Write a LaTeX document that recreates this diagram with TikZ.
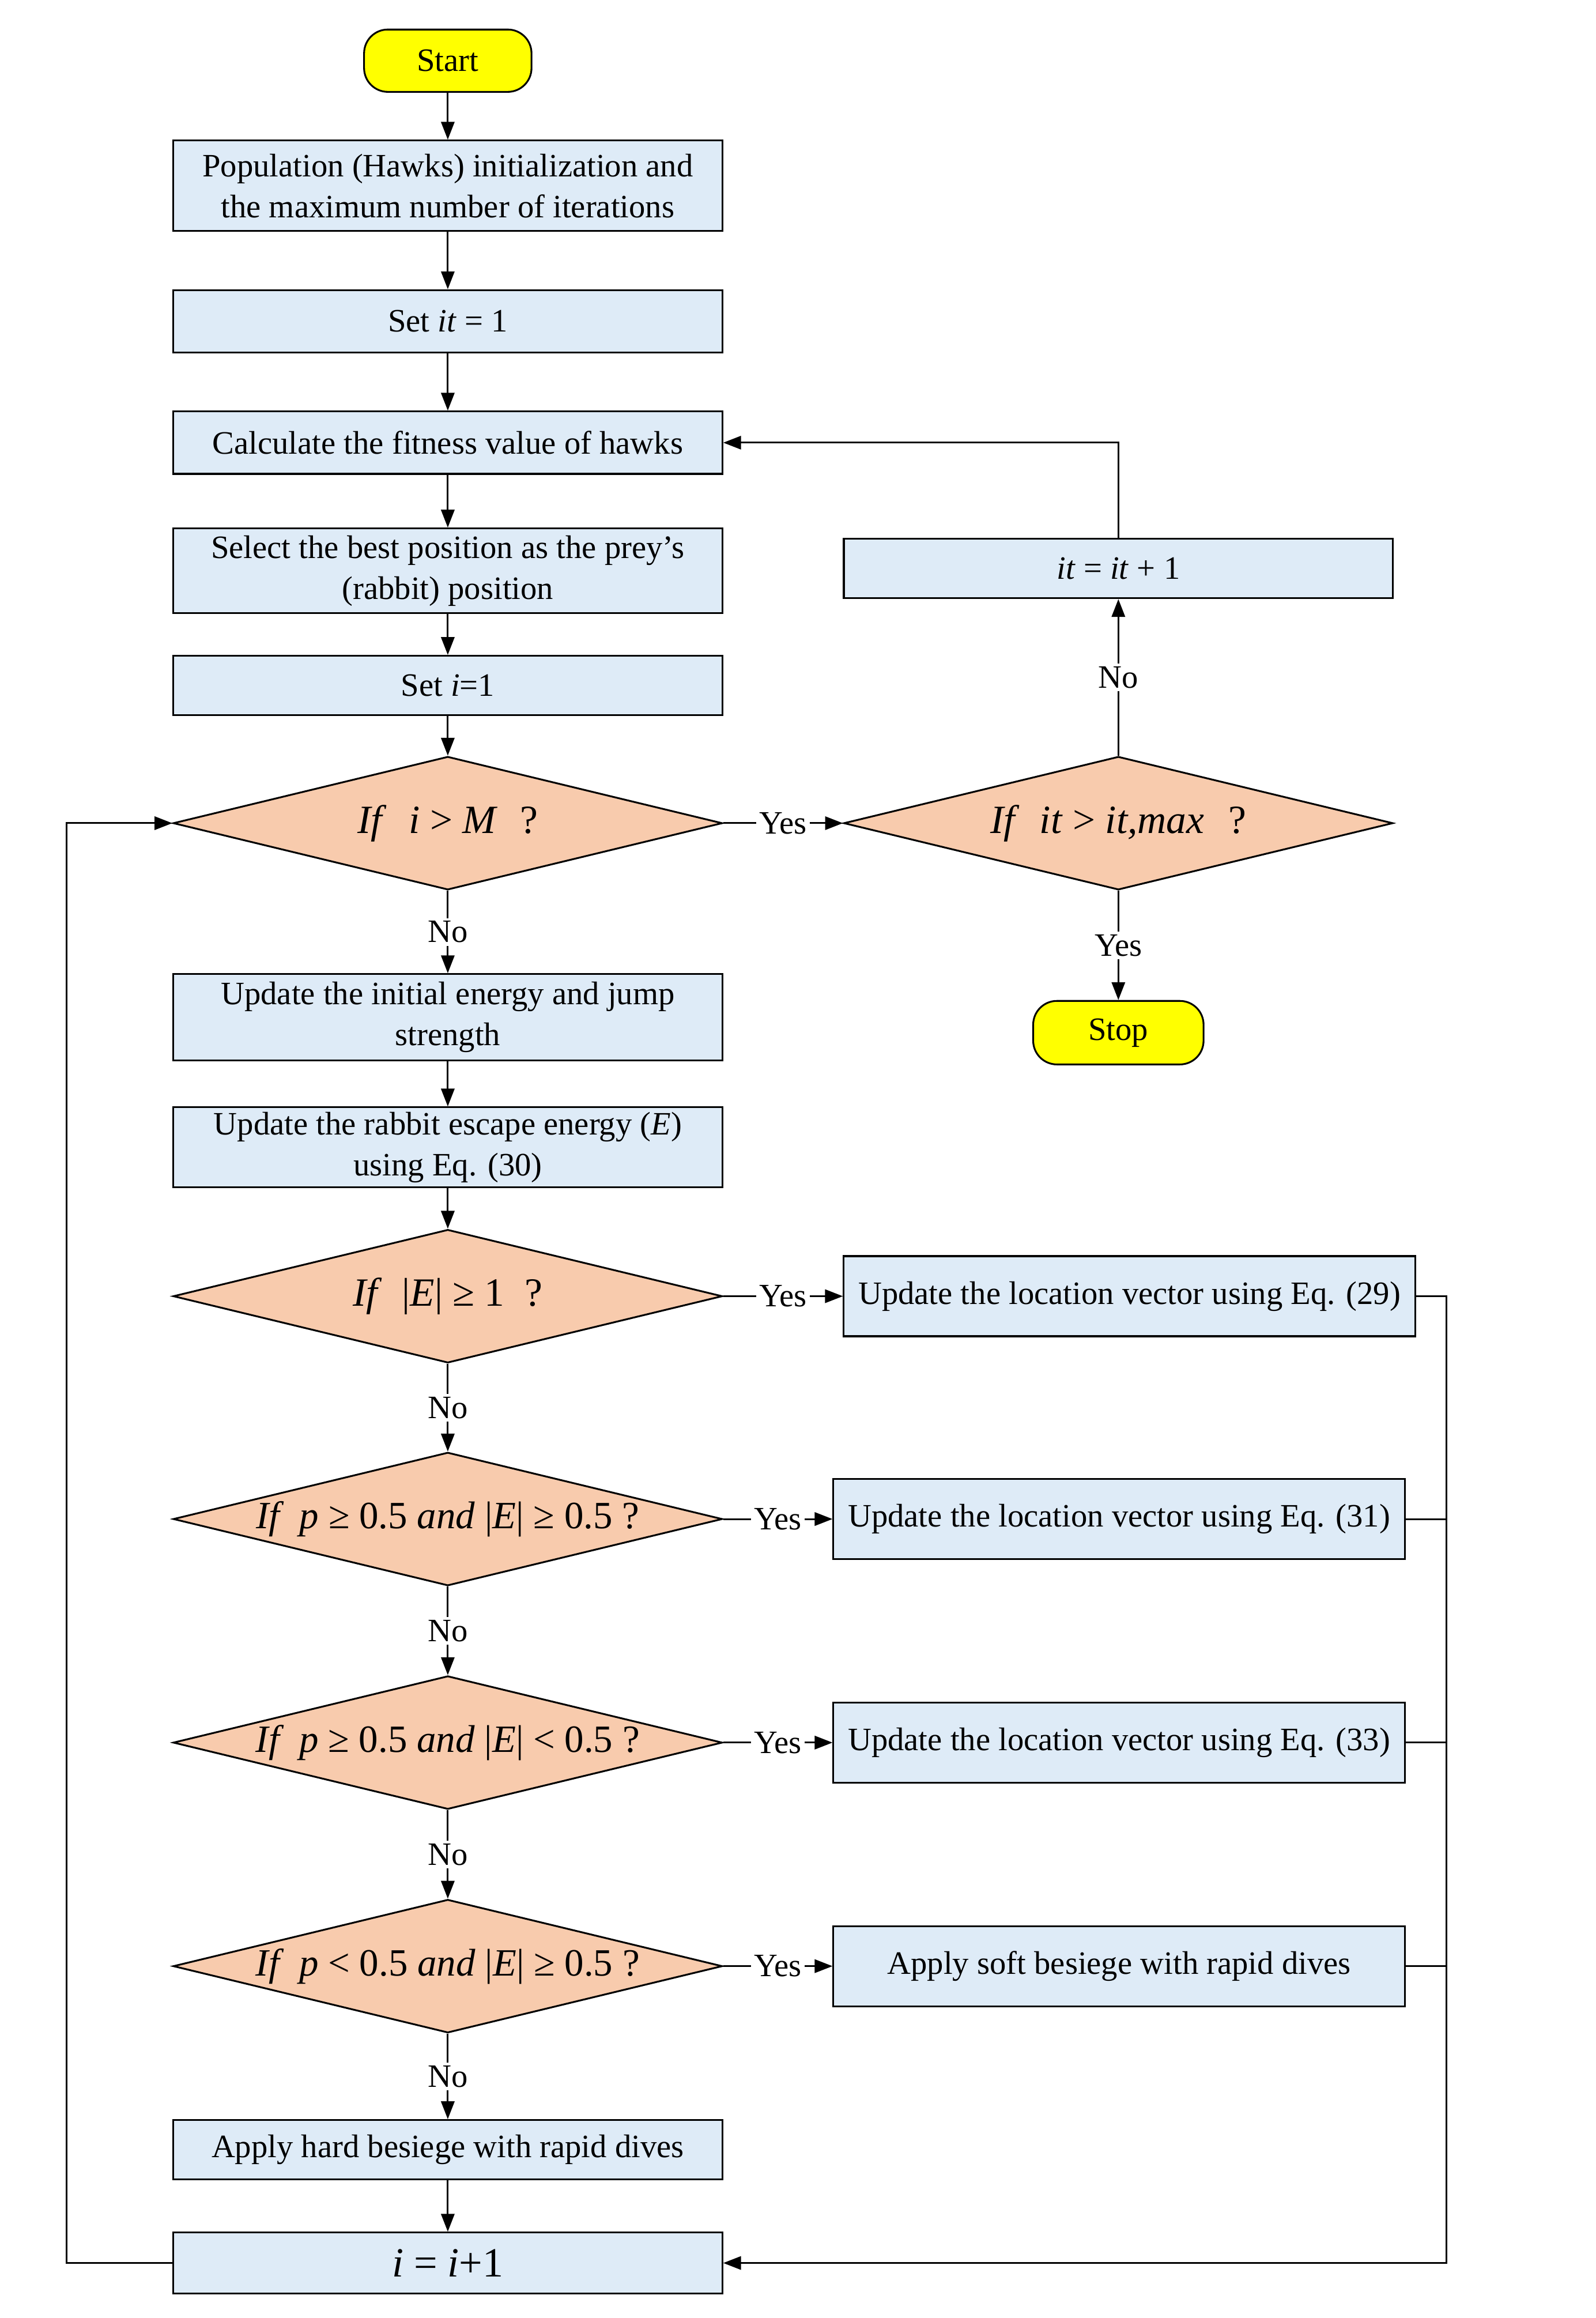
\documentclass[tikz,border=0pt]{standalone}
\usepackage{fontspec}
\setmainfont{Liberation Serif}
\usetikzlibrary{shapes.geometric,arrows.meta}
\definecolor{boxblue}{HTML}{DEEBF7}
\definecolor{diaor}{HTML}{F8CBAD}
\definecolor{termy}{HTML}{FFFF00}
\newcommand{\bfnt}{\fontsize{11}{13.8}\selectfont}
\newcommand{\dfnt}{\fontsize{13.5}{16}\selectfont}
\newcommand{\dsfnt}{\fontsize{13}{16}\selectfont}
\begin{document}
\begin{tikzpicture}[x=0.4987pt,y=-0.4987pt,
  line width=0.6pt,
  procbox/.style={draw, fill=boxblue, rectangle, minimum width=185pt, inner sep=0pt, align=center, font=\bfnt},
  decision/.style={draw, fill=diaor, diamond, minimum width=185pt, minimum height=44.9pt, inner sep=0pt},
  term/.style={draw, fill=termy, rounded corners=8pt, minimum width=56.4pt, minimum height=21pt, inner sep=0pt, font=\bfnt},
  arr/.style={-{Triangle[length=6pt,width=4.5pt]}},
  lab/.style={fill=white, inner sep=1pt, font=\bfnt},
  dtext/.style={font=\dfnt, inner sep=0pt},
  dstext/.style={font=\dsfnt, inner sep=0pt}
]
\path[use as bounding box] (0pt,0pt) rectangle (537.5pt,-780.8pt);

% left column
\node[term] (start) at (302.5,41) {Start};
\node[procbox, minimum height=30.5pt] (b1) at (302.5,125.5) {Population (Hawks) initialization and\\the maximum number of iterations};
\node[procbox, minimum height=21pt] (b2) at (302.5,217) {Set \textit{it} = 1};
\node[procbox, minimum height=21pt] (b3) at (302.5,299) {Calculate the fitness value of hawks};
\node[procbox, minimum height=28.5pt] (b4) at (302.5,385.5) {Select the best position as the prey’s\\(rabbit) position};
\node[procbox, minimum height=20pt] (b5) at (302.5,463) {Set \textit{i}=1};
\node[decision, label={[dtext]center:{\textit{If}\hspace{0.55em}\textit{i} > \textit{M}\hspace{0.55em}?}}] (d1) at (302.5,556) {};
\node[procbox, minimum height=29pt] (b6) at (302.5,687) {Update the initial energy and jump\\strength};
\node[procbox, minimum height=27pt] (b7) at (302.5,775) {Update the rabbit escape energy (\textit{E})\\using Eq. (30)};
\node[decision, label={[dtext]center:{\textit{If}\hspace{0.5em}|\textit{E}| ≥ 1\hspace{0.5em}?}}] (d2) at (302.5,875.5) {};
\node[decision, label={[dstext]center:{\textit{If}\hspace{0.4em}\textit{p} ≥ 0.5 \textit{and} |\textit{E}| ≥ 0.5 ?}}] (d3) at (302.5,1026) {};
\node[decision, label={[dstext]center:{\textit{If}\hspace{0.4em}\textit{p} ≥ 0.5 \textit{and} |\textit{E}| < 0.5 ?}}] (d4) at (302.5,1177) {};
\node[decision, label={[dstext]center:{\textit{If}\hspace{0.4em}\textit{p} < 0.5 \textit{and} |\textit{E}| ≥ 0.5 ?}}] (d5) at (302.5,1328) {};
\node[procbox, minimum height=20pt] (b8) at (302.5,1452) {Apply hard besiege with rapid dives};
\node[procbox, minimum height=20.5pt, font=\fontsize{14}{16}\selectfont] (b9) at (302.5,1528.5) {\textit{i} = \textit{i}+1};

% right column
\node[procbox, minimum height=20pt] (itb) at (755.5,384) {\textit{it} = \textit{it} + 1};
\node[decision, label={[dtext]center:{\textit{If}\hspace{0.5em}\textit{it} > \textit{it,max}\hspace{0.6em}?}}] (d6) at (755.5,556) {};
\node[term, minimum width=57.4pt, minimum height=21.4pt] (stop) at (755.5,697.5) {Stop};
\node[procbox, minimum width=192.5pt, minimum height=27pt] (r1) at (763,875.5) {Update the location vector using Eq. (29)};
\node[procbox, minimum width=192.5pt, minimum height=27pt] (r2) at (756,1026) {Update the location vector using Eq. (31)};
\node[procbox, minimum width=192.5pt, minimum height=27pt] (r3) at (756,1177) {Update the location vector using Eq. (33)};
\node[procbox, minimum width=192.5pt, minimum height=27pt] (r4) at (756,1328) {Apply soft besiege with rapid dives};

\coordinate (rc) at (977,1528.5);
\coordinate (lc) at (45,1528.5);

% connectors
\draw[arr] (start) -- (b1);
\draw[arr] (b1) -- (b2);
\draw[arr] (b2) -- (b3);
\draw[arr] (b3) -- (b4);
\draw[arr] (b4) -- (b5);
\draw[arr] (b5) -- (d1);
\draw[arr] (d1) -- node[lab]{No} (b6);
\draw[arr] (b6) -- (b7);
\draw[arr] (b7) -- (d2);
\draw[arr] (d2) -- node[lab]{No} (d3);
\draw[arr] (d3) -- node[lab]{No} (d4);
\draw[arr] (d4) -- node[lab]{No} (d5);
\draw[arr] (d5) -- node[lab]{No} (b8);
\draw[arr] (b8) -- (b9);

\draw[arr] (d1) -- node[lab]{Yes} (d6);
\draw[arr] (d6) -- node[lab]{No} (itb);
\draw[arr] (d6) -- node[lab]{Yes} (stop);
\draw[arr] (itb.north) |- (b3.east);

\draw[arr] (d2) -- node[lab]{Yes} (r1);
\draw[arr] (d3) -- node[lab]{Yes} (r2);
\draw[arr] (d4) -- node[lab]{Yes} (r3);
\draw[arr] (d5) -- node[lab]{Yes} (r4);

\draw[arr] (r1.east) -| (rc) -- (b9.east);
\draw (r2.east) -- (r2.east -| rc);
\draw (r3.east) -- (r3.east -| rc);
\draw (r4.east) -- (r4.east -| rc);

\draw[arr] (b9.west) -- (lc) |- (d1.west);
\end{tikzpicture}
\end{document}
